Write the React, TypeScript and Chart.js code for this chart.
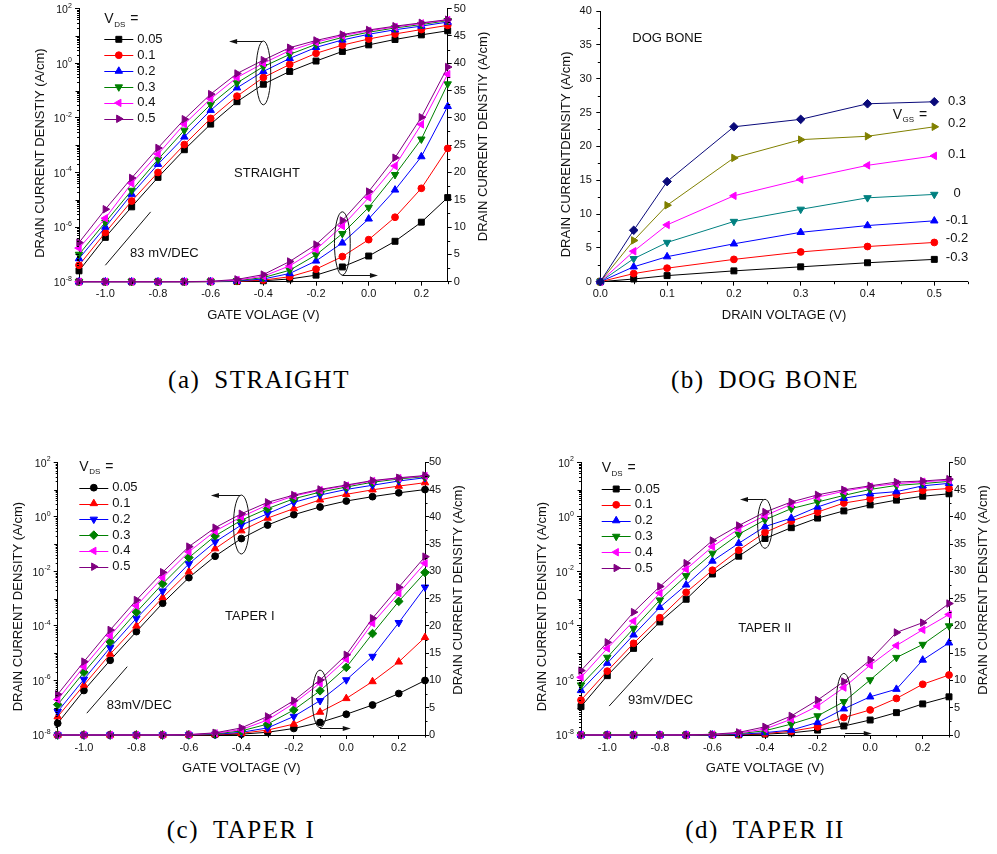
import React, { useEffect, useRef } from 'react';
import { Chart, registerables } from 'chart.js';
import { drawPoint } from 'chart.js/helpers';

Chart.register(...registerables);

const FONT = '"Liberation Sans", Arial, Helvetica, sans-serif';
const INK = '#111111';

// ---------- transfer characteristics (shared sweep) ----------
const GATE_V = [-1.1, -1.0, -0.9, -0.8, -0.7, -0.6, -0.5, -0.4, -0.3, -0.2, -0.1, 0.0, 0.1, 0.2, 0.3];
const GATE_TICKS = [-1.0, -0.8, -0.6, -0.4, -0.2, 0.0, 0.2];
const GATE_MINOR = [-1.1, -0.9, -0.7, -0.5, -0.3, -0.1, 0.1, 0.3];
const LOG_EXPONENTS = [2, 0, -2, -4, -6, -8];
const LIN_TICKS = [0, 5, 10, 15, 20, 25, 30, 35, 40, 45, 50];
const LIN_MINOR = [2.5, 7.5, 12.5, 17.5, 22.5, 27.5, 32.5, 37.5, 42.5, 47.5];
const VDS_LABELS = ['0.05', '0.1', '0.2', '0.3', '0.4', '0.5'];

// STRAIGHT, drain current density (A/cm) for each V_DS
const STRAIGHT_005 = [2.5e-8, 4.2e-7, 5.5e-6, 6.6e-5, 6.8e-4, 5.9e-3, 0.039, 0.17, 0.5, 1.2, 2.7, 4.7, 7.4, 10.9, 15.4];
const STRAIGHT_01 = [4e-8, 6.3e-7, 9e-6, 1e-4, 1.05e-3, 9.5e-3, 0.062, 0.3, 0.9, 2.3, 4.6, 7.7, 11.8, 17.1, 24.4];
const STRAIGHT_02 = [7e-8, 1e-6, 1.6e-5, 2e-4, 2e-3, 0.019, 0.126, 0.5, 1.5, 3.8, 7.1, 11.5, 16.8, 22.9, 32.1];
const STRAIGHT_03 = [1e-7, 1.5e-6, 2.2e-5, 3e-4, 3.5e-3, 0.031, 0.19, 0.75, 2.1, 4.9, 8.8, 13.6, 19.6, 26.1, 36.2];
const STRAIGHT_04 = [1.7e-7, 2.1e-6, 4e-5, 4.7e-4, 5.9e-3, 0.05, 0.3, 1.0, 2.9, 5.9, 10.2, 15.4, 21.2, 28.8, 38.0];
const STRAIGHT_05 = [2.7e-7, 4.5e-6, 6.3e-5, 7.9e-4, 8.9e-3, 0.074, 0.42, 1.3, 3.7, 6.8, 11.2, 16.5, 22.7, 30.1, 39.3];

// TAPER I
const TAPER1_005 = [2.7e-8, 4.3e-7, 5.5e-6, 6.2e-5, 6.8e-4, 5.9e-3, 0.036, 0.16, 0.5, 1.2, 2.3, 3.8, 5.5, 7.6, 10.0];
const TAPER1_01 = [4.7e-8, 6.8e-7, 9.3e-6, 1e-4, 1.1e-3, 9.8e-3, 0.068, 0.31, 0.9, 2.0, 4.2, 6.7, 9.8, 13.4, 17.9];
const TAPER1_02 = [7.2e-8, 1.1e-6, 1.6e-5, 1.9e-4, 1.9e-3, 0.019, 0.12, 0.5, 1.3, 3.4, 6.3, 10.1, 14.4, 20.6, 27.1];
const TAPER1_03 = [1.3e-7, 2e-6, 2.6e-5, 3.2e-4, 3.5e-3, 0.032, 0.2, 0.75, 2.0, 4.6, 8.1, 12.4, 18.6, 24.5, 29.8];
const TAPER1_04 = [2e-7, 3.2e-6, 4.4e-5, 5.5e-4, 5.9e-3, 0.052, 0.3, 1.0, 2.75, 5.8, 9.5, 13.9, 20.5, 26.0, 31.5];
const TAPER1_05 = [3.1e-7, 4.9e-6, 7.1e-5, 8.9e-4, 9.3e-3, 0.081, 0.4, 1.3, 3.4, 6.3, 10.1, 14.7, 21.4, 27.1, 32.7];

// TAPER II
const TAPER2_005 = [1.1e-7, 1.5e-6, 1.5e-5, 1.4e-4, 9.5e-4, 8e-3, 0.036, 0.16, 0.4, 0.9, 1.65, 2.75, 4.1, 5.7, 7.0];
const TAPER2_01 = [1.9e-7, 2.2e-6, 2.3e-5, 2e-4, 1.7e-3, 0.011, 0.06, 0.27, 0.7, 1.5, 3.2, 4.6, 6.7, 9.3, 11.0];
const TAPER2_02 = [4.3e-7, 4.3e-6, 4.7e-5, 4.8e-4, 3.2e-3, 0.024, 0.107, 0.44, 0.9, 2.3, 4.8, 7.0, 8.4, 13.75, 16.9];
const TAPER2_03 = [6.8e-7, 7e-6, 8.1e-5, 8.9e-4, 6.9e-3, 0.046, 0.23, 0.78, 2.0, 3.5, 6.1, 10.1, 14.2, 16.6, 20.0];
const TAPER2_04 = [1.3e-6, 1.5e-5, 1.5e-4, 1.6e-3, 0.012, 0.081, 0.36, 1.1, 2.9, 5.3, 8.7, 12.8, 16.4, 19.3, 22.1];
const TAPER2_05 = [2.3e-6, 2.5e-5, 3.2e-4, 2.8e-3, 0.02, 0.135, 0.48, 1.5, 3.5, 6.4, 9.8, 13.75, 18.8, 20.6, 24.1];

// ---------- output characteristics, DOG BONE ----------
const DRAIN_V = [0, 0.05, 0.1, 0.2, 0.3, 0.4, 0.5];
const DRAIN_TICKS = [0, 0.1, 0.2, 0.3, 0.4, 0.5];
const DRAIN_MINOR = [0.05, 0.15, 0.25, 0.35, 0.45, 0.55];
const DOG_TICKS = [0, 5, 10, 15, 20, 25, 30, 35, 40];
const DOG_MINOR = [2.5, 7.5, 12.5, 17.5, 22.5, 27.5, 32.5, 37.5];
const VGS_LABELS = ['0.3', '0.2', '0.1', '0', '-0.1', '-0.2', '-0.3'];
const DOG_P03 = [0, 7.6, 14.8, 22.9, 24.0, 26.3, 26.6];
const DOG_P02 = [0, 6.1, 11.3, 18.3, 21.0, 21.5, 22.9];
const DOG_P01 = [0, 4.5, 8.4, 12.7, 15.1, 17.2, 18.6];
const DOG_0 = [0, 3.4, 5.8, 8.9, 10.7, 12.4, 12.9];
const DOG_M01 = [0, 2.2, 3.7, 5.6, 7.3, 8.3, 9.0];
const DOG_M02 = [0, 1.2, 2.0, 3.3, 4.4, 5.2, 5.8];
const DOG_M03 = [0, 0.4, 0.9, 1.6, 2.2, 2.8, 3.3];

// ---------- styling ----------
const VDS_COLORS = ['#000000', '#ff0000', '#0000ff', '#008000', '#ff00ff', '#800080'];
const VGS_COLORS = ['#0a0a7a', '#808000', '#ff00ff', '#008080', '#0000ff', '#ff0000', '#000000'];

type Marker = 'square' | 'circle' | 'up' | 'down' | 'left' | 'right' | 'diamond';
const MARKERS: Record<Marker, { pointStyle: any; rotation: number; radius: number }> = {
  square: { pointStyle: 'rect', rotation: 0, radius: 4.2 },
  circle: { pointStyle: 'circle', rotation: 0, radius: 3.4 },
  up: { pointStyle: 'triangle', rotation: 0, radius: 4.3 },
  down: { pointStyle: 'triangle', rotation: 180, radius: 4.3 },
  left: { pointStyle: 'triangle', rotation: -90, radius: 4.3 },
  right: { pointStyle: 'triangle', rotation: 90, radius: 4.3 },
  diamond: { pointStyle: 'rectRot', rotation: 0, radius: 4.3 },
};

type Box = { left: number; top: number; width: number; height: number };
type Area = { left: number; right: number; top: number; bottom: number };
type Note =
  | { kind: 'ellipse'; axis: string; x: number; rx: number; y1: number; y2: number }
  | { kind: 'arrow'; axis: string; y: number; x1: number; x2: number }
  | { kind: 'segment'; axis: string; x1: number; y1: number; x2: number; y2: number }
  | { kind: 'text'; axis: string; x: number; y: number; text: string };

interface TransferPanel {
  pos: Box;
  area: Area;
  series: number[][];
  markers: Marker[];
  titleLeft: string;
  titleRight: string;
  titleX: string;
  titleLeftDx: number;
  titleRightDx: number;
  rightTickPad: number;
  legend: { dx: number; header: number; row0: number; step: number };
  notes: Note[];
}

const PANEL_A: TransferPanel = {
  pos: { left: 0, top: 0, width: 500, height: 340 },
  area: { left: 79, right: 447.7, top: 8.3, bottom: 281.7 },
  series: [STRAIGHT_005, STRAIGHT_01, STRAIGHT_02, STRAIGHT_03, STRAIGHT_04, STRAIGHT_05],
  markers: ['square', 'circle', 'up', 'down', 'left', 'right'],
  titleLeft: 'DRAIN CURRENT DENSTIY (A/cm)',
  titleRight: 'DRAIN CURRENT DENSTIY (A/cm)',
  titleX: 'GATE VOLAGE (V)',
  titleLeftDx: -38.3,
  titleRightDx: 35.3,
  rightTickPad: 2,
  legend: { dx: 25.3, header: 10.7, row0: 30.7, step: 15.9 },
  notes: [
    { kind: 'ellipse', axis: 'yLog', x: -0.4, rx: 0.028, y1: 6.5, y2: 0.03 },
    { kind: 'arrow', axis: 'yLog', y: 6.5, x1: -0.405, x2: -0.53 },
    { kind: 'ellipse', axis: 'yLin', x: -0.1, rx: 0.03, y1: 12.8, y2: 1.2 },
    { kind: 'arrow', axis: 'yLin', y: 1.2, x1: -0.1, x2: 0.035 },
    { kind: 'segment', axis: 'yLog', x1: -1.0, y1: 4e-8, x2: -0.828, y2: 3.6e-6 },
    { kind: 'text', axis: 'yLog', x: -0.906, y: 1.1e-7, text: '83 mV/DEC' },
    { kind: 'text', axis: 'yLog', x: -0.511, y: 9.5e-5, text: 'STRAIGHT' },
  ],
};

const PANEL_C: TransferPanel = {
  pos: { left: 0, top: 450, width: 480, height: 340 },
  area: { left: 57.7, right: 425, top: 12.3, bottom: 285 },
  series: [TAPER1_005, TAPER1_01, TAPER1_02, TAPER1_03, TAPER1_04, TAPER1_05],
  markers: ['circle', 'up', 'down', 'diamond', 'left', 'right'],
  titleLeft: 'DRAIN CURRENT DENSITY (A/cm)',
  titleRight: 'DRAIN CURRENT DENSITY (A/cm)',
  titleX: 'GATE VOLTAGE (V)',
  titleLeftDx: -39.4,
  titleRightDx: 33.3,
  rightTickPad: 0,
  legend: { dx: 21.6, header: 4.4, row0: 25.4, step: 15.8 },
  notes: [
    { kind: 'ellipse', axis: 'yLog', x: -0.4, rx: 0.03, y1: 6.3, y2: 0.0434 },
    { kind: 'arrow', axis: 'yLog', y: 6.3, x1: -0.405, x2: -0.516 },
    { kind: 'ellipse', axis: 'yLin', x: -0.1, rx: 0.03, y1: 11.9, y2: 1.34 },
    { kind: 'arrow', axis: 'yLin', y: 1.23, x1: -0.1, x2: 0.017 },
    { kind: 'segment', axis: 'yLog', x1: -0.989, y1: 6.3e-8, x2: -0.835, y2: 3.2e-6 },
    { kind: 'text', axis: 'yLog', x: -0.913, y: 1.17e-7, text: '83mV/DEC' },
    { kind: 'text', axis: 'yLog', x: -0.462, y: 2.2e-4, text: 'TAPER I' },
  ],
};

const PANEL_D: TransferPanel = {
  pos: { left: 520, top: 450, width: 477, height: 340 },
  area: { left: 61, right: 429, top: 12.3, bottom: 285 },
  series: [TAPER2_005, TAPER2_01, TAPER2_02, TAPER2_03, TAPER2_04, TAPER2_05],
  markers: ['square', 'circle', 'up', 'down', 'left', 'right'],
  titleLeft: 'DRAIN CURRENT DENSITY (A/cm)',
  titleRight: 'DRAIN CURRENT DENSITY (A/cm)',
  titleX: 'GATE VOLTAGE (V)',
  titleLeftDx: -38.3,
  titleRightDx: 34.3,
  rightTickPad: 1,
  legend: { dx: 20.7, header: 6, row0: 26.7, step: 15.8 },
  notes: [
    { kind: 'ellipse', axis: 'yLog', x: -0.4, rx: 0.028, y1: 4.4, y2: 0.07 },
    { kind: 'arrow', axis: 'yLog', y: 4.4, x1: -0.405, x2: -0.495 },
    { kind: 'ellipse', axis: 'yLin', x: -0.1, rx: 0.028, y1: 11.3, y2: 1.23 },
    { kind: 'arrow', axis: 'yLin', y: 0.42, x1: -0.095, x2: 0.006 },
    { kind: 'segment', axis: 'yLog', x1: -0.993, y1: 1.15e-7, x2: -0.827, y2: 6.5e-6 },
    { kind: 'text', axis: 'yLog', x: -0.921, y: 1.9e-7, text: '93mV/DEC' },
    { kind: 'text', axis: 'yLog', x: -0.502, y: 8.1e-5, text: 'TAPER II' },
  ],
};

const DOG_POS: Box = { left: 520, top: 0, width: 477, height: 340 };
const DOG_AREA: Area = { left: 80.3, right: 447.7, top: 8.3, bottom: 281.7 };
const DOG_SERIES = [DOG_P03, DOG_P02, DOG_P01, DOG_0, DOG_M01, DOG_M02, DOG_M03];
const DOG_MARKERS: Marker[] = ['diamond', 'right', 'left', 'down', 'up', 'circle', 'square'];
// small vertical nudges (px) for the end-of-curve V_GS labels
const DOG_LABEL_NUDGE = [0, -3, -1, -1, 0, -4, -2];

const CAPTIONS = [
  { tag: '(a)', name: 'STRAIGHT', cx: 259, cy: 380 },
  { tag: '(b)', name: 'DOG BONE', cx: 765, cy: 380 },
  { tag: '(c)', name: 'TAPER I', cx: 241, cy: 830 },
  { tag: '(d)', name: 'TAPER II', cx: 765, cy: 830 },
];

// ---------- drawing helpers ----------
const TICK_FONT = { family: FONT, size: 11 };
const tickGrid = { display: true, drawOnChartArea: false, drawTicks: true, tickLength: 4, color: '#000', lineWidth: 1 };
const axisBorder = { display: true, color: '#000', width: 1 };
const fixW = (w: number) => (s: any) => { s.width = w; };
const fixH = (h: number) => (s: any) => { s.height = h; };
const setTicks = (vals: number[]) => (s: any) => { s.ticks = vals.map((v) => ({ value: v })); };

function hTicks(ctx: CanvasRenderingContext2D, scale: any, vals: number[], y0: number, len: number) {
  ctx.beginPath();
  for (const v of vals) {
    const x = Math.round(scale.getPixelForValue(v)) + 0.5;
    ctx.moveTo(x, y0);
    ctx.lineTo(x, y0 + len);
  }
  ctx.stroke();
}

function vTicks(ctx: CanvasRenderingContext2D, scale: any, vals: number[], x0: number, len: number) {
  ctx.beginPath();
  for (const v of vals) {
    const y = Math.round(scale.getPixelForValue(v)) + 0.5;
    ctx.moveTo(x0, y);
    ctx.lineTo(x0 + len, y);
  }
  ctx.stroke();
}

function vTitle(ctx: CanvasRenderingContext2D, text: string, x: number, y: number) {
  ctx.save();
  ctx.translate(x, y);
  ctx.rotate(-Math.PI / 2);
  ctx.font = `13px ${FONT}`;
  ctx.textAlign = 'center';
  ctx.textBaseline = 'middle';
  ctx.fillText(text, 0, 0);
  ctx.restore();
}

function hText(ctx: CanvasRenderingContext2D, text: string, x: number, y: number, align: CanvasTextAlign) {
  ctx.font = `13px ${FONT}`;
  ctx.textAlign = align;
  ctx.textBaseline = 'middle';
  ctx.fillText(text, x, y);
}

function subLabel(ctx: CanvasRenderingContext2D, x: number, y: number, main: string, sub: string, tail: string) {
  ctx.textAlign = 'left';
  ctx.textBaseline = 'middle';
  ctx.font = `14px ${FONT}`;
  ctx.fillText(main, x, y);
  let w = ctx.measureText(main).width + 0.5;
  ctx.font = `8px ${FONT}`;
  ctx.fillText(sub, x + w, y + 5);
  w += ctx.measureText(sub).width + 1;
  ctx.font = `14px ${FONT}`;
  ctx.fillText(tail, x + w, y);
}

function marker(ctx: CanvasRenderingContext2D, m: Marker, color: string, x: number, y: number) {
  const s = MARKERS[m];
  ctx.fillStyle = color;
  ctx.strokeStyle = color;
  ctx.lineWidth = 1;
  drawPoint(ctx, { pointStyle: s.pointStyle, radius: s.radius, rotation: s.rotation, borderWidth: 1 } as any, x, y);
}

function drawNote(ctx: CanvasRenderingContext2D, chart: any, n: Note) {
  const xs = chart.scales.x;
  const ys = chart.scales[n.axis];
  const X = (v: number) => xs.getPixelForValue(v);
  const Y = (v: number) => ys.getPixelForValue(v);
  ctx.strokeStyle = '#111';
  ctx.fillStyle = '#111';
  ctx.lineWidth = 1;
  if (n.kind === 'ellipse') {
    const cx = X(n.x);
    const rx = Math.abs(X(n.x + n.rx) - cx);
    const a = Y(n.y1);
    const b = Y(n.y2);
    ctx.beginPath();
    ctx.ellipse(cx, (a + b) / 2, rx, Math.abs(b - a) / 2, 0, 0, Math.PI * 2);
    ctx.stroke();
  } else if (n.kind === 'arrow') {
    const y = Math.round(Y(n.y)) + 0.5;
    const x1 = X(n.x1);
    const x2 = X(n.x2);
    const dir = Math.sign(x2 - x1);
    ctx.beginPath();
    ctx.moveTo(x1, y);
    ctx.lineTo(x2 - dir * 5, y);
    ctx.stroke();
    ctx.beginPath();
    ctx.moveTo(x2, y);
    ctx.lineTo(x2 - dir * 8, y - 2.5);
    ctx.lineTo(x2 - dir * 8, y + 2.5);
    ctx.closePath();
    ctx.fill();
  } else if (n.kind === 'segment') {
    ctx.beginPath();
    ctx.moveTo(X(n.x1), Y(n.y1));
    ctx.lineTo(X(n.x2), Y(n.y2));
    ctx.stroke();
  } else {
    hText(ctx, n.text, X(n.x), Y(n.y), 'left');
  }
}

// ---------- transfer-characteristic chart ----------
function transferConfig(p: TransferPanel) {
  const { pos, area } = p;
  const datasets: any[] = [];
  p.series.forEach((vals, i) => {
    const m = MARKERS[p.markers[i]];
    const color = VDS_COLORS[i];
    const pts = GATE_V.map((v, k) => ({ x: v, y: vals[k] }));
    for (const axis of ['yLog', 'yLin']) {
      datasets.push({
        label: `${VDS_LABELS[i]} ${axis}`,
        data: pts,
        xAxisID: 'x',
        yAxisID: axis,
        borderColor: color,
        backgroundColor: color,
        borderWidth: 1,
        pointStyle: m.pointStyle,
        pointRotation: m.rotation,
        pointRadius: m.radius,
        pointBackgroundColor: color,
        pointBorderColor: color,
        pointBorderWidth: 1,
        tension: 0,
        clip: false,
        order: p.series.length - i,
      });
    }
  });

  const decor = {
    id: 'transferDecor',
    afterDraw(chart: any) {
      const ctx: CanvasRenderingContext2D = chart.ctx;
      const ca = chart.chartArea;
      const { x, yLog, yLin } = chart.scales;
      ctx.save();
      ctx.strokeStyle = '#000';
      ctx.fillStyle = INK;
      ctx.lineWidth = 1;
      // minor ticks
      hTicks(ctx, x, GATE_MINOR, ca.bottom, 2.5);
      const decades: number[] = [];
      const inner: number[] = [];
      for (let e = -8; e < 2; e++) {
        if (e % 2 !== 0) decades.push(Math.pow(10, e));
        for (let k = 2; k <= 9; k++) inner.push(k * Math.pow(10, e));
      }
      vTicks(ctx, yLog, decades, ca.left, -3.5);
      vTicks(ctx, yLog, inner, ca.left, -2);
      vTicks(ctx, yLin, LIN_MINOR, ca.right, 2.5);

      // log tick labels, 10 with a raised exponent
      const right = ca.left - 7;
      for (const e of LOG_EXPONENTS) {
        const py = yLog.getPixelForValue(Math.pow(10, e));
        const sup = String(e);
        ctx.textBaseline = 'middle';
        ctx.font = `7px ${FONT}`;
        const sw = ctx.measureText(sup).width;
        ctx.textAlign = 'left';
        ctx.fillText(sup, right - sw, py - 3);
        ctx.font = `10.5px ${FONT}`;
        ctx.textAlign = 'right';
        ctx.fillText('10', right - sw - 0.3, py + 1.5);
      }

      // axis titles
      const midY = (ca.top + ca.bottom) / 2;
      ctx.fillStyle = INK;
      vTitle(ctx, p.titleLeft, ca.left + p.titleLeftDx, midY + 8);
      vTitle(ctx, p.titleRight, ca.right + p.titleRightDx, midY - 8.7);
      hText(ctx, p.titleX, (ca.left + ca.right) / 2, ca.bottom + 33.3, 'center');

      // legend
      const lg = p.legend;
      const lx = ca.left + lg.dx;
      ctx.fillStyle = INK;
      subLabel(ctx, lx, ca.top + lg.header, 'V', 'DS', ' =');
      p.series.forEach((_, i) => {
        const y = ca.top + lg.row0 + i * lg.step;
        const color = VDS_COLORS[i];
        ctx.strokeStyle = color;
        ctx.lineWidth = 1;
        ctx.beginPath();
        ctx.moveTo(lx, Math.round(y) + 0.5);
        ctx.lineTo(lx + 29, Math.round(y) + 0.5);
        ctx.stroke();
        marker(ctx, p.markers[i], color, lx + 14.5, y);
        ctx.fillStyle = INK;
        hText(ctx, VDS_LABELS[i], lx + 33, y, 'left');
      });

      for (const n of p.notes) drawNote(ctx, chart, n);
      ctx.restore();
    },
  };

  return {
    type: 'line' as const,
    data: { datasets },
    options: {
      responsive: false,
      animation: false as const,
      events: [],
      layout: { padding: { left: 0, right: 0, top: area.top, bottom: 0 } },
      plugins: { legend: { display: false }, tooltip: { enabled: false }, title: { display: false } },
      scales: {
        x: {
          type: 'linear' as const,
          position: 'bottom' as const,
          min: -1.1,
          max: 0.3,
          afterFit: fixH(pos.height - area.bottom),
          afterBuildTicks: setTicks(GATE_TICKS),
          ticks: { callback: (v: any) => Number(v).toFixed(1), font: TICK_FONT, color: INK, padding: 2, maxRotation: 0, autoSkip: false },
          grid: tickGrid,
          border: axisBorder,
        },
        yLog: {
          type: 'logarithmic' as const,
          position: 'left' as const,
          min: 1e-8,
          max: 1e2,
          afterFit: fixW(area.left),
          afterBuildTicks: setTicks(LOG_EXPONENTS.map((e) => Math.pow(10, e))),
          ticks: { display: false },
          grid: tickGrid,
          border: axisBorder,
        },
        yLin: {
          type: 'linear' as const,
          position: 'right' as const,
          min: 0,
          max: 50,
          afterFit: fixW(pos.width - area.right),
          afterBuildTicks: setTicks(LIN_TICKS),
          ticks: { font: TICK_FONT, color: INK, padding: p.rightTickPad, autoSkip: false },
          grid: tickGrid,
          border: axisBorder,
        },
      },
    },
    plugins: [decor],
  };
}

// ---------- output-characteristic chart ----------
function dogBoneConfig() {
  const pos = DOG_POS;
  const area = DOG_AREA;
  const datasets = DOG_SERIES.map((vals, i) => {
    const m = MARKERS[DOG_MARKERS[i]];
    const color = VGS_COLORS[i];
    return {
      label: VGS_LABELS[i],
      data: DRAIN_V.map((v, k) => ({ x: v, y: vals[k] })),
      borderColor: color,
      backgroundColor: color,
      borderWidth: 1,
      pointStyle: m.pointStyle,
      pointRotation: m.rotation,
      pointRadius: m.radius,
      pointBackgroundColor: color,
      pointBorderColor: color,
      pointBorderWidth: 1,
      tension: 0,
      clip: false,
    };
  });

  const decor = {
    id: 'dogDecor',
    afterDraw(chart: any) {
      const ctx: CanvasRenderingContext2D = chart.ctx;
      const ca = chart.chartArea;
      const { x, y } = chart.scales;
      ctx.save();
      ctx.strokeStyle = '#000';
      ctx.lineWidth = 1;
      hTicks(ctx, x, DRAIN_MINOR, ca.bottom, 2.5);
      vTicks(ctx, y, DOG_MINOR, ca.left, -2.5);

      ctx.fillStyle = INK;
      vTitle(ctx, 'DRAIN CURRENTDENSITY (A/cm)', ca.left - 33.6, (ca.top + ca.bottom) / 2 + 8);
      hText(ctx, 'DRAIN VOLTAGE (V)', (ca.left + ca.right) / 2, ca.bottom + 33.3, 'center');
      hText(ctx, 'DOG BONE', x.getPixelForValue(0.048), y.getPixelForValue(35.9), 'left');

      // V_GS value at the end of each curve
      const lx = x.getPixelForValue(0.534);
      DOG_SERIES.forEach((vals, i) => {
        const py = y.getPixelForValue(vals[vals.length - 1]) + DOG_LABEL_NUDGE[i];
        hText(ctx, VGS_LABELS[i], lx, py, 'center');
      });
      subLabel(ctx, x.getPixelForValue(0.4377), y.getPixelForValue(24.6), 'V', 'GS', ' =');
      ctx.restore();
    },
  };

  return {
    type: 'line' as const,
    data: { datasets },
    options: {
      responsive: false,
      animation: false as const,
      events: [],
      layout: { padding: { left: 0, right: pos.width - area.right, top: area.top, bottom: 0 } },
      plugins: { legend: { display: false }, tooltip: { enabled: false }, title: { display: false } },
      scales: {
        x: {
          type: 'linear' as const,
          position: 'bottom' as const,
          min: 0,
          max: 0.55,
          afterFit: fixH(pos.height - area.bottom),
          afterBuildTicks: setTicks(DRAIN_TICKS),
          ticks: { callback: (v: any) => Number(v).toFixed(1), font: TICK_FONT, color: INK, padding: 2, maxRotation: 0, autoSkip: false },
          grid: tickGrid,
          border: axisBorder,
        },
        y: {
          type: 'linear' as const,
          position: 'left' as const,
          min: 0,
          max: 40,
          afterFit: fixW(area.left),
          afterBuildTicks: setTicks(DOG_TICKS),
          ticks: { font: TICK_FONT, color: INK, padding: 4.5, autoSkip: false },
          grid: tickGrid,
          border: axisBorder,
        },
      },
    },
    plugins: [decor],
  };
}

function ChartCanvas({ pos, make }: { pos: Box; make: () => any }) {
  const ref = useRef<HTMLCanvasElement>(null);
  useEffect(() => {
    if (!ref.current) return;
    const chart = new Chart(ref.current, make());
    return () => chart.destroy();
  }, []);
  return (
    <canvas
      ref={ref}
      width={pos.width}
      height={pos.height}
      style={{ position: 'absolute', left: pos.left, top: pos.top, width: pos.width, height: pos.height }}
    />
  );
}

export default function App() {
  return (
    <div style={{ position: 'absolute', left: 0, top: 0, width: 997, height: 854, background: '#fff', overflow: 'hidden' }}>
      <ChartCanvas pos={PANEL_A.pos} make={() => transferConfig(PANEL_A)} />
      <ChartCanvas pos={DOG_POS} make={dogBoneConfig} />
      <ChartCanvas pos={PANEL_C.pos} make={() => transferConfig(PANEL_C)} />
      <ChartCanvas pos={PANEL_D.pos} make={() => transferConfig(PANEL_D)} />
      {CAPTIONS.map((c) => (
        <div
          key={c.tag}
          style={{
            position: 'absolute',
            left: c.cx - 200,
            top: c.cy - 16,
            width: 400,
            textAlign: 'center',
            fontFamily: '"Liberation Serif", "Times New Roman", serif',
            fontSize: 25,
            lineHeight: '32px',
            letterSpacing: '1.5px',
            color: '#000',
            whiteSpace: 'pre',
          }}
        >
          {c.tag}
          <span style={{ marginLeft: 14 }}>{c.name}</span>
        </div>
      ))}
    </div>
  );
}
